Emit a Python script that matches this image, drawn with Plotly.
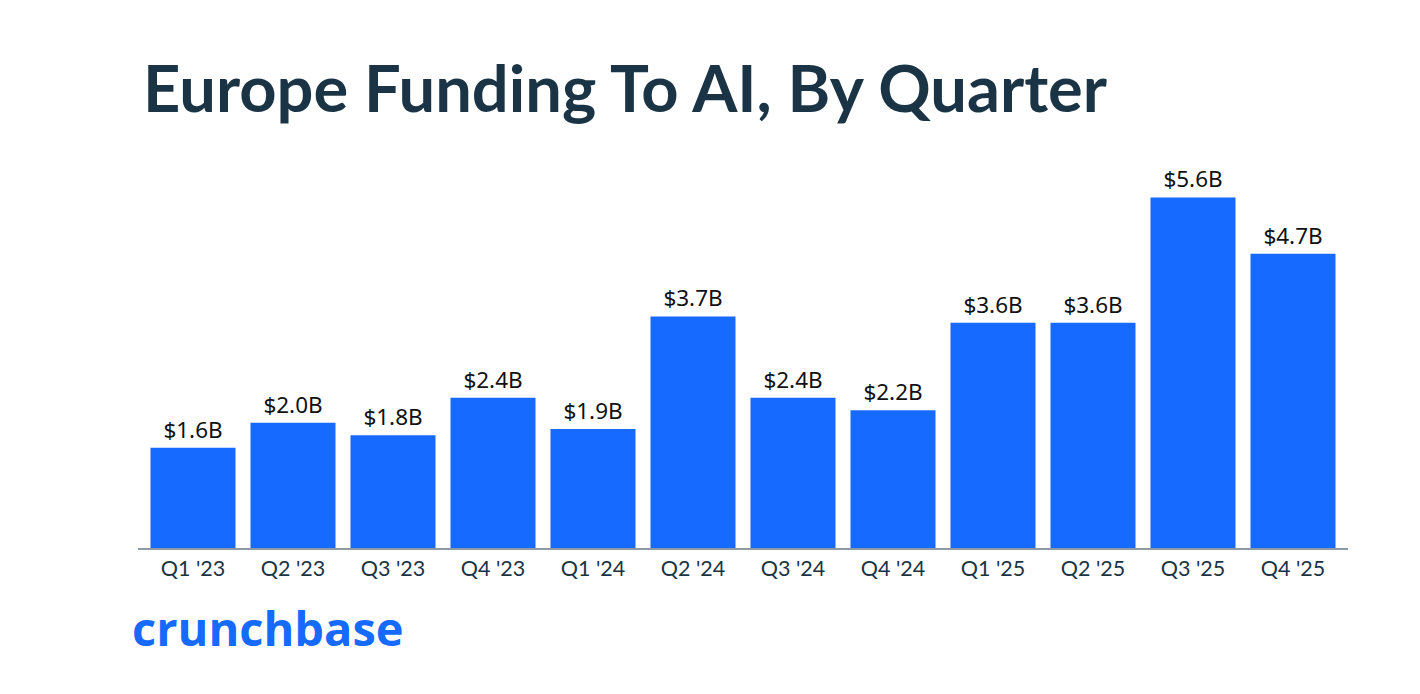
import plotly.graph_objects as go

quarters = ["Q1 '23", "Q2 '23", "Q3 '23", "Q4 '23", "Q1 '24", "Q2 '24",
            "Q3 '24", "Q4 '24", "Q1 '25", "Q2 '25", "Q3 '25", "Q4 '25"]
funding_b = [1.6, 2.0, 1.8, 2.4, 1.9, 3.7, 2.4, 2.2, 3.6, 3.6, 5.6, 4.7]
labels = [f"${v:.1f}B" for v in funding_b]

W, H = 1420, 694
OFF = 8  # page body margin
x0, x1 = 138 - OFF, 1348 - OFF
y_top, y_bot = 150 - OFF, 548 - OFF

fig = go.Figure(go.Bar(
    x=list(range(len(quarters))), y=funding_b,
    width=0.85,
    marker=dict(color="#176AFF", line=dict(width=0)),
    text=labels, textposition="outside", cliponaxis=False,
    textfont=dict(family="Noto Sans", size=22.5, color="#111111"),
    hoverinfo="skip",
))

fig.update_layout(
    width=W, height=H,
    margin=dict(l=0, r=0, t=0, b=0),
    paper_bgcolor="white", plot_bgcolor="white",
    showlegend=False,
    xaxis=dict(
        domain=[x0 / W, x1 / W],
        range=[-0.55, 11.55],
        tickmode="array", tickvals=list(range(len(quarters))), ticktext=quarters,
        showgrid=False, zeroline=False,
        showline=True, linecolor="#8D99A3", linewidth=2,
        ticks="", ticklen=0,
        tickfont=dict(family="Lato", size=21.5, color="#1B3445"),
    ),
    yaxis=dict(
        domain=[1 - y_bot / H, 1 - y_top / H],
        range=[0, (y_bot - y_top) / 62.6],
        visible=False, showgrid=False, zeroline=False,
    ),
    annotations=[
        dict(text="<b>Europe Funding To AI, By Quarter</b>", xref="paper", yref="paper",
             x=(141 - OFF) / W, y=1 - (87 - OFF) / H, xanchor="left", yanchor="middle",
             showarrow=False,
             font=dict(family="Lato", size=65, color="#1B3445")),
        dict(text="crunchbase", xref="paper", yref="paper",
             x=(130 - OFF) / W, y=1 - (628 - OFF) / H, xanchor="left", yanchor="middle",
             showarrow=False,
             font=dict(family="Open Sans", size=47, color="#176AFF", weight=700)),
    ],
)

fig.write_html("out.html")
